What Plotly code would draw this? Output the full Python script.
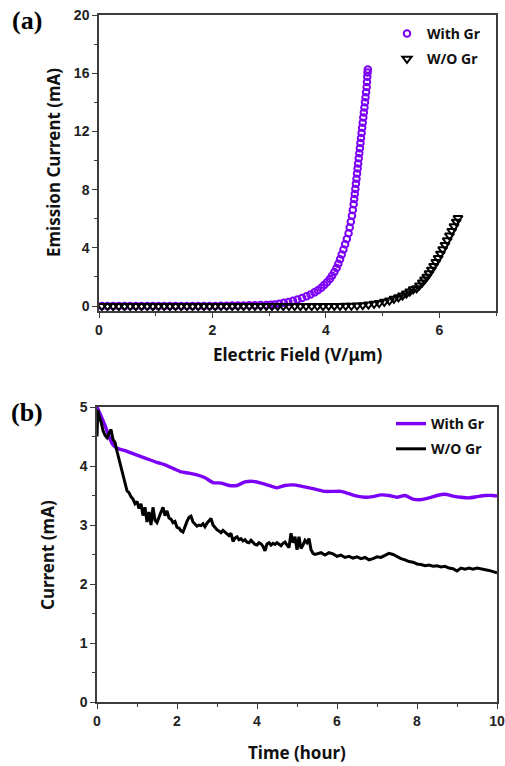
import plotly.graph_objects as go

W, H = 505, 766

# ---------------- Panel (a) data ----------------
a_with_x = [0.05, 0.15, 0.25, 0.35, 0.45, 0.55, 0.65, 0.75, 0.85, 0.95,
            1.05, 1.15, 1.25, 1.35, 1.45, 1.55, 1.65, 1.75, 1.85, 1.95,
            2.05, 2.15, 2.25, 2.35, 2.45, 2.55, 2.65, 2.75, 2.85, 2.95,
            3.03, 3.10, 3.18, 3.26, 3.34, 3.42, 3.50, 3.58, 3.66, 3.73,
            3.80, 3.86, 3.92, 3.97, 4.02, 4.07, 4.11, 4.15, 4.19, 4.22,
            4.25, 4.28, 4.31, 4.34, 4.37, 4.40, 4.42, 4.44, 4.46, 4.475,
            4.49, 4.50, 4.51, 4.52, 4.53, 4.54, 4.55, 4.56, 4.57, 4.58,
            4.59, 4.60, 4.61, 4.62, 4.63, 4.64, 4.65, 4.66, 4.67, 4.68,
            4.69, 4.70, 4.71, 4.72, 4.725, 4.73, 4.735, 4.74]
a_with_y = [0.0, 0.0, 0.0, 0.0, 0.0, 0.0, 0.0, 0.0, 0.0, 0.0,
            0.0, 0.0, 0.0, 0.0, 0.0, 0.0, 0.0, 0.01, 0.01, 0.01,
            0.01, 0.02, 0.02, 0.03, 0.03, 0.04, 0.05, 0.06, 0.07, 0.08,
            0.09, 0.11, 0.16, 0.22, 0.28, 0.36, 0.45, 0.55, 0.67, 0.80,
            0.94, 1.09, 1.26, 1.44, 1.64, 1.86, 2.09, 2.34, 2.62, 2.91,
            3.22, 3.54, 3.88, 4.24, 4.61, 5.0, 5.4, 5.8, 6.2, 6.6,
            7.0, 7.35, 7.7, 8.05, 8.4, 8.75, 9.1, 9.45, 9.8, 10.15,
            10.5, 10.85, 11.2, 11.55, 11.9, 12.25, 12.6, 12.95, 13.3, 13.65,
            14.0, 14.35, 14.7, 15.05, 15.4, 15.75, 16.05, 16.25]

a_wo_x = [0.05, 0.15, 0.25, 0.35, 0.45, 0.55, 0.65, 0.75, 0.85, 0.95,
          1.05, 1.15, 1.25, 1.35, 1.45, 1.55, 1.65, 1.75, 1.85, 1.95,
          2.05, 2.15, 2.25, 2.35, 2.45, 2.55, 2.65, 2.75, 2.85, 2.95,
          3.05, 3.15, 3.25, 3.35, 3.45, 3.55, 3.65, 3.75, 3.85, 3.95,
          4.05, 4.15, 4.25, 4.35, 4.45, 4.55, 4.65, 4.75, 4.85, 4.94,
          5.03, 5.12, 5.20, 5.28, 5.35, 5.42, 5.48, 5.54, 5.60, 5.65,
          5.70, 5.74, 5.78, 5.82, 5.86, 5.90, 5.94, 5.98, 6.02, 6.06,
          6.10, 6.14, 6.18, 6.22, 6.26, 6.30, 6.33]
a_wo_y = [0.0, 0.0, 0.0, 0.0, 0.0, 0.0, 0.0, 0.0, 0.0, 0.0,
          0.0, 0.0, 0.0, 0.0, 0.0, 0.0, 0.0, 0.0, 0.0, 0.0,
          0.0, 0.0, 0.0, 0.0, 0.0, 0.0, 0.0, 0.0, 0.0, 0.0,
          0.0, 0.0, 0.0, 0.0, 0.0, 0.0, 0.0, 0.0, 0.0, 0.0,
          0.01, 0.01, 0.01, 0.02, 0.02, 0.03, 0.06, 0.10, 0.15, 0.21,
          0.29, 0.38, 0.50, 0.60, 0.72, 0.86, 1.00, 1.15, 1.22, 1.42,
          1.62, 1.82, 2.02, 2.25, 2.50, 2.76, 3.02, 3.30, 3.60, 3.90,
          4.20, 4.52, 4.84, 5.16, 5.48, 5.80, 6.05]

a_x_ticks = [0, 2, 4, 6]
a_y_ticks = [0, 4, 8, 12, 16, 20]

# ---------------- Panel (b) data ----------------
b_with_t = [0, 0.1, 0.2, 0.3, 0.4, 0.5, 0.7, 0.9, 1.1, 1.3, 1.5, 1.7, 1.9,
            2.1, 2.3, 2.5, 2.7, 2.9, 3.1, 3.3, 3.5, 3.7, 3.9, 4.1, 4.3, 4.5,
            4.7, 4.9, 5.1, 5.3, 5.5, 5.7, 5.9, 6.1, 6.3, 6.5, 6.7, 6.9, 7.1,
            7.3, 7.5, 7.7, 7.9, 8.1, 8.3, 8.5, 8.7, 8.9, 9.1, 9.3, 9.5, 9.7,
            9.9, 10.0]
b_with_i = [5.00, 4.85, 4.69, 4.50, 4.36, 4.30, 4.26, 4.21, 4.16, 4.11, 4.06,
            4.02, 3.96, 3.90, 3.88, 3.85, 3.80, 3.72, 3.71, 3.67, 3.67, 3.73,
            3.74, 3.71, 3.67, 3.63, 3.67, 3.68, 3.66, 3.63, 3.60, 3.57, 3.57,
            3.57, 3.53, 3.49, 3.47, 3.48, 3.51, 3.50, 3.47, 3.50, 3.44, 3.43,
            3.46, 3.50, 3.52, 3.49, 3.47, 3.46, 3.48, 3.50, 3.50, 3.49]

b_wo_t = [0, 0.02, 0.05, 0.1, 0.15, 0.2, 0.25, 0.3, 0.35, 0.4, 0.45, 0.5,
          0.55, 0.6, 0.65, 0.7, 0.75,
          0.80, 0.85, 0.90, 0.95, 1.00, 1.05, 1.10, 1.15, 1.20, 1.25, 1.30,
          1.35, 1.40, 1.45, 1.50, 1.55, 1.60, 1.65, 1.70, 1.75, 1.80, 1.85,
          1.90, 1.95, 2.00, 2.05, 2.10, 2.15, 2.20, 2.25, 2.30, 2.35, 2.40,
          2.45, 2.50, 2.55, 2.60, 2.65, 2.70, 2.75, 2.80, 2.85, 2.90, 2.95,
          3.00, 3.05, 3.10, 3.15, 3.20, 3.25, 3.30, 3.35, 3.40, 3.45, 3.50,
          3.55, 3.60, 3.65, 3.70, 3.75, 3.80, 3.85, 3.90, 3.95, 4.00, 4.05,
          4.10, 4.15, 4.20, 4.25, 4.30, 4.35, 4.40, 4.45, 4.50, 4.55, 4.60,
          4.65, 4.70, 4.75, 4.80, 4.85, 4.90, 4.95, 5.00, 5.05, 5.10, 5.15,
          5.20, 5.25, 5.30, 5.35, 5.40, 5.45, 5.50,
          5.6, 5.7, 5.8, 5.9, 6.0, 6.1, 6.2, 6.3, 6.4, 6.5, 6.6, 6.7, 6.8,
          6.9, 7.0, 7.1, 7.2, 7.3, 7.4, 7.5, 7.6, 7.7, 7.8, 7.9, 8.0, 8.1,
          8.2, 8.3, 8.4, 8.5, 8.6, 8.7, 8.8, 8.9, 9.0, 9.1, 9.2, 9.3, 9.4,
          9.5, 9.6, 9.7, 9.8, 9.9, 10.0]
b_wo_i = [4.50, 4.95, 4.85, 4.75, 4.60, 4.52, 4.48, 4.55, 4.62, 4.45, 4.40,
          4.25, 4.12, 4.00, 3.88, 3.70, 3.58,
          3.55, 3.48, 3.44, 3.36, 3.40, 3.28, 3.36, 3.16, 3.30, 3.05, 3.22,
          3.00, 3.30, 3.08, 3.04, 3.14, 3.22, 3.30, 3.16, 3.24, 3.12, 3.10,
          3.04, 3.06, 2.96, 2.95, 2.90, 2.88, 2.98, 3.06, 3.13, 3.15, 3.05,
          3.02, 2.98, 3.00, 2.99, 3.02, 2.97, 3.03, 3.08, 3.11, 3.00, 2.96,
          2.92, 2.90, 2.87, 2.91, 2.88, 2.84, 2.82, 2.86, 2.72, 2.78, 2.80,
          2.75, 2.77, 2.73, 2.75, 2.71, 2.70, 2.74, 2.71, 2.67, 2.66, 2.70,
          2.68, 2.64, 2.56, 2.68, 2.70, 2.66, 2.69, 2.67, 2.70, 2.68, 2.65,
          2.69, 2.71, 2.66, 2.62, 2.86, 2.70, 2.80, 2.58, 2.80, 2.60, 2.66,
          2.74, 2.70, 2.77, 2.58, 2.52, 2.50, 2.51,
          2.53, 2.49, 2.53, 2.51, 2.47, 2.49, 2.45, 2.47, 2.44, 2.46, 2.43,
          2.45, 2.41, 2.43, 2.46, 2.45, 2.49, 2.52, 2.50, 2.46, 2.43, 2.41,
          2.38, 2.37, 2.34, 2.33, 2.31, 2.32, 2.30, 2.31, 2.29, 2.30, 2.27,
          2.26, 2.22, 2.27, 2.25, 2.27, 2.25, 2.27, 2.26, 2.24, 2.23, 2.21,
          2.19]

b_x_ticks = [0, 2, 4, 6, 8, 10]
b_y_ticks = [0, 1, 2, 3, 4, 5]

PURPLE = "#7b00f5"
BLACK = "#000000"
AXC = "#3c3c3c"

fig = go.Figure()

fig.add_trace(go.Scatter(
    x=a_with_x, y=a_with_y, mode="markers", name="With Gr",
    legendgroup="a1",
    marker=dict(symbol="circle-open", size=6.5, color=PURPLE,
                line=dict(width=2, color=PURPLE)),
    xaxis="x", yaxis="y", legend="legend"))
fig.add_trace(go.Scatter(
    x=a_wo_x, y=a_wo_y, mode="markers", name="W/O Gr",
    legendgroup="a2",
    marker=dict(symbol="triangle-down-open", size=8, color=BLACK,
                line=dict(width=2, color=BLACK)),
    xaxis="x", yaxis="y", legend="legend"))

fig.add_trace(go.Scatter(
    x=b_with_t, y=b_with_i, mode="lines", name="With Gr",
    legendgroup="b1",
    line=dict(color=PURPLE, width=3.4, shape="spline", smoothing=0.6),
    xaxis="x2", yaxis="y2", legend="legend2"))
fig.add_trace(go.Scatter(
    x=b_wo_t, y=b_wo_i, mode="lines", name="W/O Gr",
    legendgroup="b2",
    line=dict(color=BLACK, width=3),
    xaxis="x2", yaxis="y2", legend="legend2"))

tickfont = dict(family="Liberation Sans", size=14, color="#222")

def axis(domain, rng, ticks, minor, anchor):
    return dict(domain=domain, range=rng, automargin=False,
                tickvals=ticks, ticktext=[f"<b>{t}</b>" for t in ticks],
                ticks="outside", ticklen=5, tickwidth=1.3, tickcolor=AXC,
                minor=dict(dtick=minor, tick0=0, ticks="outside", ticklen=3,
                           tickwidth=1.2, tickcolor=AXC),
                showline=True, linecolor=AXC, linewidth=1.5, mirror=True,
                showgrid=False, zeroline=False, tickfont=tickfont,
                ticklabeloverflow="allow",
                anchor=anchor, fixedrange=True)

legend_font = dict(family="Noto Sans", size=14, color="#111", weight="bold")

fig.update_layout(
    width=W, height=H, autosize=False,
    margin=dict(l=0, r=0, t=0, b=0, pad=0, autoexpand=False),
    paper_bgcolor="white", plot_bgcolor="white",
    showlegend=True,
    xaxis=axis([99 / W, 496 / W], [0, 7], a_x_ticks, 1, "y"),
    yaxis=axis([1 - 311 / H, 1 - 15 / H], [-0.34, 20], a_y_ticks, 2, "x"),
    xaxis2=axis([97 / W, 497 / W], [0, 10], b_x_ticks, 1, "y2"),
    yaxis2=axis([1 - 702 / H, 1 - 407 / H], [0, 5], b_y_ticks, 0.5, "x2"),
    legend=dict(x=387 / W, y=1 - 18 / H, xanchor="left", yanchor="top",
                tracegroupgap=4, bgcolor="rgba(0,0,0,0)", font=legend_font),
    legend2=dict(x=391 / W, y=1 - 408 / H, xanchor="left", yanchor="top",
                 tracegroupgap=4, bgcolor="rgba(0,0,0,0)", font=legend_font),
)

title_font = dict(family="Noto Sans", size=17, color="#111", weight="bold")
label_font = dict(family="Liberation Serif", size=26, color="#000", weight="bold")

annos = [
    dict(text="Emission Current (mA)", x=53 / W, y=1 - 163 / H, textangle=-90, font=title_font),
    dict(text="Electric Field (V/μm)", x=297 / W, y=1 - 354 / H, font=title_font),
    dict(text="Current (mA)", x=47 / W, y=1 - 555 / H, textangle=-90, font=title_font),
    dict(text="Time (hour)", x=297 / W, y=1 - 752 / H, font=title_font),
    dict(text="(a)", x=27 / W, y=1 - 21 / H, font=label_font),
    dict(text="(b)", x=27 / W, y=1 - 412 / H, font=label_font),
]
for a in annos:
    a.update(xref="paper", yref="paper", showarrow=False, xanchor="center", yanchor="middle")
fig.update_layout(annotations=annos)

post = ("document.documentElement.style.overflow='hidden';"
        "document.body.style.margin='0px';document.body.style.overflow='hidden';"
        "var d=document.getElementById('{plot_id}');"
        "d.style.position='fixed';d.style.left='0px';d.style.top='0px';")

fig.write_html("out.html", config={"displayModeBar": False}, post_script=post)
